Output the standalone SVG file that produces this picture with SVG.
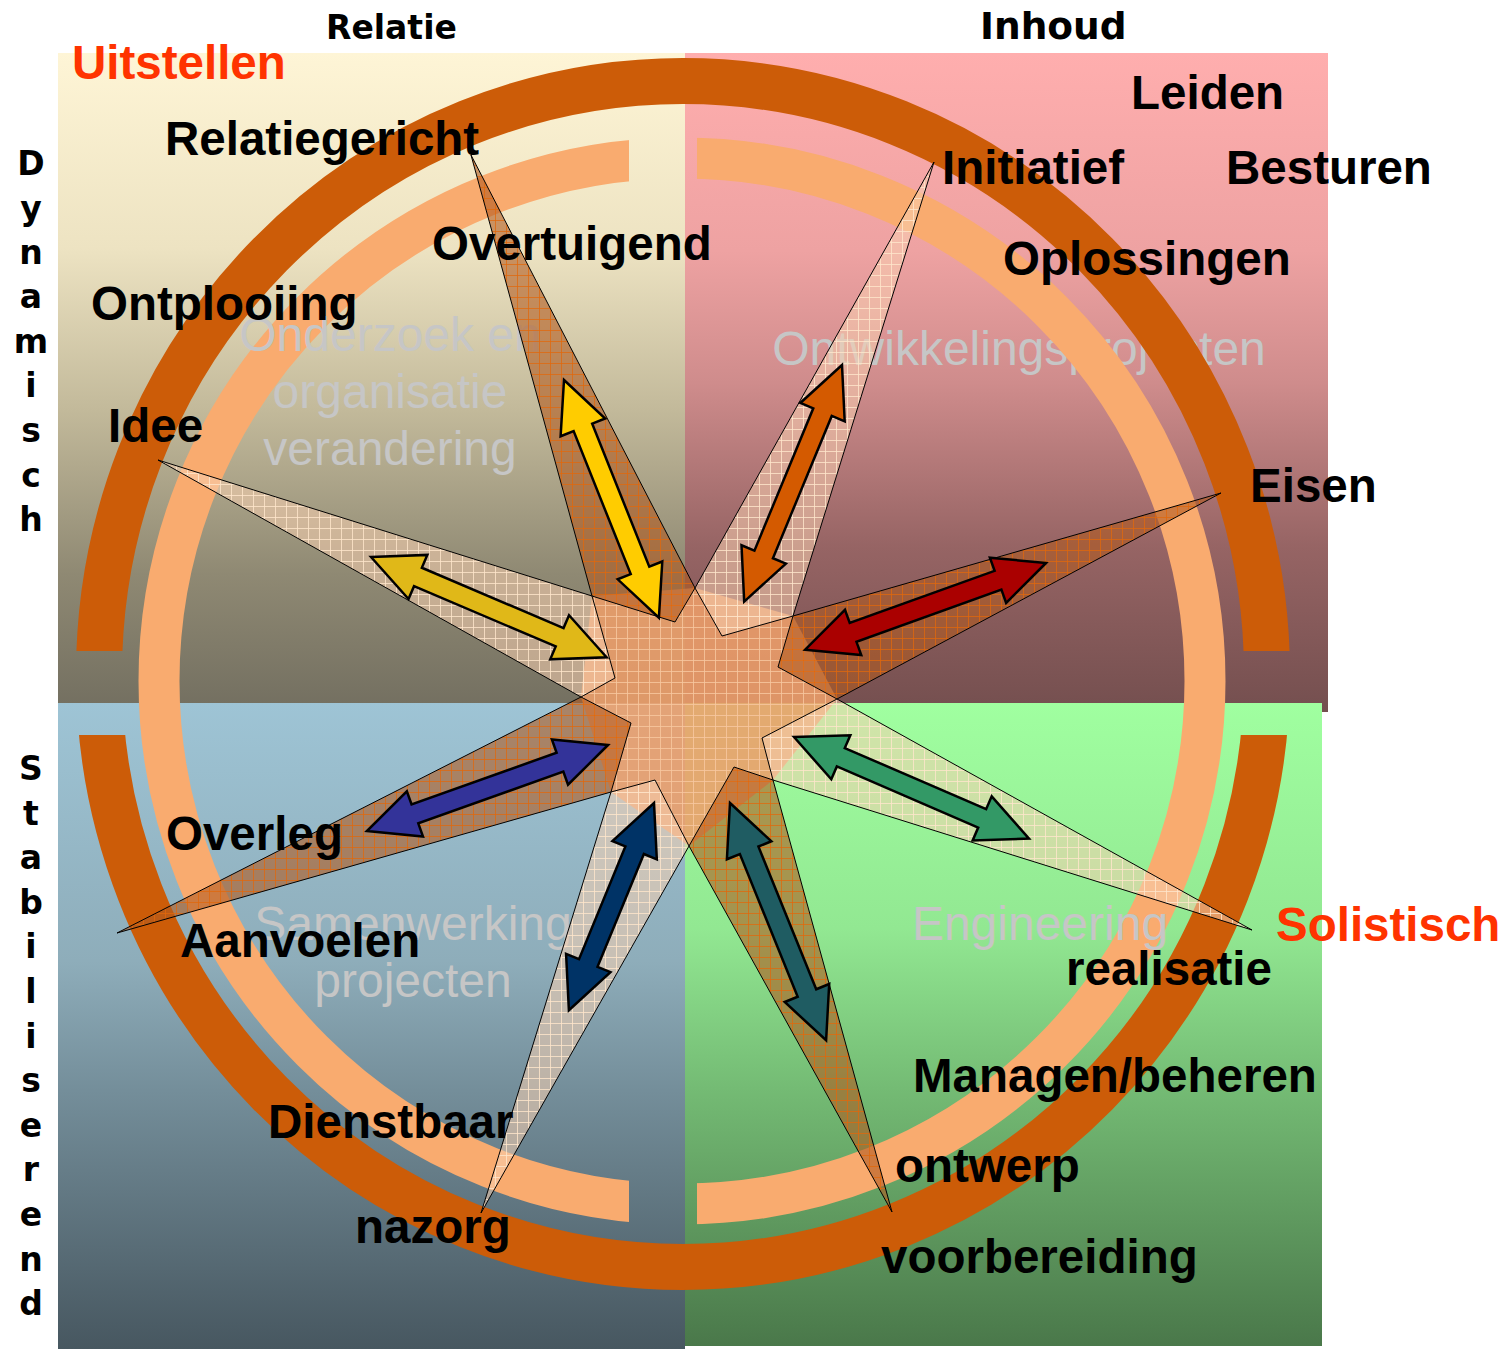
<svg xmlns="http://www.w3.org/2000/svg" width="1512" height="1349" viewBox="0 0 1512 1349">
<defs>
<style>
.lbl{font-family:"Liberation Sans",Arial,sans-serif;font-weight:bold;font-size:47.5px;fill:#000}
.red{font-family:"Liberation Sans",Arial,sans-serif;font-weight:bold;font-size:47.5px;fill:#ff3300}
.hdr{font-family:"DejaVu Sans",Verdana,sans-serif;font-weight:bold;font-size:33px;fill:#000}
.vt{font-family:"DejaVu Sans",Verdana,sans-serif;font-weight:bold;font-size:33px;fill:#000;text-anchor:middle}
.wm{font-family:"Liberation Sans",Arial,sans-serif;font-size:48px;fill:#c6c6c6;text-anchor:middle}
.dark{fill:url(#pDark);stroke:#000;stroke-width:1}
.light{fill:url(#pLight);stroke:#000;stroke-width:1}
.arr{stroke:#000;stroke-width:2.5;stroke-linejoin:miter}
</style>
<linearGradient id="gTL" x1="0" y1="0" x2="0" y2="1">
<stop offset="0" stop-color="#fef5d6"/>
<stop offset="0.3" stop-color="#ede3c2"/>
<stop offset="0.55" stop-color="#c2b99a"/>
<stop offset="0.8" stop-color="#8f8973"/>
<stop offset="1" stop-color="#747061"/>
</linearGradient>
<linearGradient id="gTR" x1="0" y1="0" x2="0" y2="1">
<stop offset="0" stop-color="#ffaeae"/>
<stop offset="0.3" stop-color="#eea2a2"/>
<stop offset="0.5" stop-color="#cf8c8c"/>
<stop offset="0.75" stop-color="#966464"/>
<stop offset="1" stop-color="#744f4f"/>
</linearGradient>
<linearGradient id="gBL" x1="0" y1="0" x2="0" y2="1">
<stop offset="0" stop-color="#9ec4d5"/>
<stop offset="0.4" stop-color="#8eadba"/>
<stop offset="0.6" stop-color="#748e9a"/>
<stop offset="1" stop-color="#475760"/>
</linearGradient>
<linearGradient id="gBR" x1="0" y1="0" x2="0" y2="1">
<stop offset="0" stop-color="#a0ffa0"/>
<stop offset="0.35" stop-color="#92e892"/>
<stop offset="0.6" stop-color="#74bb74"/>
<stop offset="1" stop-color="#4a784a"/>
</linearGradient>
<pattern id="pDark" width="11" height="11" patternUnits="userSpaceOnUse">
<rect width="11" height="11" fill="#b05a20" fill-opacity="0.6"/>
<path d="M0,0.5H11M0.5,0V11" stroke="#e0660a" stroke-opacity="0.75" stroke-width="1"/>
</pattern>
<pattern id="pLight" width="11" height="11" patternUnits="userSpaceOnUse">
<rect width="11" height="11" fill="#f8d0b0" fill-opacity="0.55"/>
<path d="M0,0.5H11M0.5,0V11" stroke="#ffe6cc" stroke-opacity="0.8" stroke-width="1"/>
</pattern>
<pattern id="pCenter" width="11" height="11" patternUnits="userSpaceOnUse">
<rect width="11" height="11" fill="#ec9e6a" fill-opacity="0.88"/>
<path d="M0,0.5H11M0.5,0V11" stroke="#f8c8a0" stroke-opacity="0.8" stroke-width="1"/>
</pattern>
<clipPath id="clipOuter"><rect x="0" y="0" width="1512" height="651"/><rect x="0" y="735" width="1512" height="614"/></clipPath>
<clipPath id="clipInner"><rect x="0" y="0" width="629" height="1349"/><rect x="697" y="0" width="815" height="1349"/></clipPath>
<path id="a256" d="M0,0 L51,-24 L51,-10 L205,-10 L205,-24 L256,0 L205,24 L205,10 L51,10 L51,24 Z"/>
<path id="a224" d="M0,0 L51,-24 L51,-10 L173,-10 L173,-24 L224,0 L173,24 L173,10 L51,10 L51,24 Z"/>
</defs>

<g id="background">
<rect x="685" y="53" width="643" height="659" fill="url(#gTR)"/>
<rect x="58" y="53" width="627" height="651" fill="url(#gTL)"/>
<rect x="58" y="703" width="627" height="646" fill="url(#gBL)"/>
<rect x="685" y="703" width="637" height="643" fill="url(#gBR)"/>
</g>

<g id="watermark-back">
<text class="wm" x="1019" y="365">Ontwikkelingsprojecten</text>
</g>

<g id="rings">
<ellipse cx="683" cy="674" rx="584" ry="593" fill="none" stroke="#cc5c08" stroke-width="46" clip-path="url(#clipOuter)"/>
<circle cx="682" cy="681" r="523" fill="none" stroke="#f9ab6f" stroke-width="41" clip-path="url(#clipInner)"/>
</g>

<g id="watermarks">
<text class="wm" x="390" y="351">Onderzoek en</text>
<text class="wm" x="390" y="408">organisatie</text>
<text class="wm" x="390" y="465">verandering</text>
<text class="wm" x="413" y="940">Samenwerking</text>
<text class="wm" x="413" y="997">projecten</text>
<text class="wm" x="1040" y="940">Engineering</text>
</g>

<g id="star">
<polygon id="star-center" points="695,588 793,616 837,699 773,780 689,846 611,792 581,697 592,596" fill="url(#pCenter)" stroke="none"/>
<polygon id="ray-relatiegericht" class="dark" points="471,155 695,588 675,622 592,596"/>
<polygon id="ray-initiatief" class="light" points="934,162 793,616 722,636 695,588"/>
<polygon id="ray-eisen" class="dark" points="1221,493 837,699 778,667 793,616"/>
<polygon id="ray-realisatie" class="light" points="1252,930 773,780 762,738 837,699"/>
<polygon id="ray-voorbereiding" class="dark" points="892,1212 689,846 734,767 773,780"/>
<polygon id="ray-nazorg" class="light" points="481,1213 611,792 655,780 689,846"/>
<polygon id="ray-aanvoelen" class="dark" points="117,933 581,697 631,723 611,792"/>
<polygon id="ray-idee" class="light" points="158,460 592,596 615,678 581,697"/>
</g>

<g id="connectors">
<use href="#a256" class="arr" fill="#ffcc00" transform="translate(564,380) rotate(68.24)"/>
<use href="#a256" class="arr" fill="#d45a00" transform="translate(842,365) rotate(112.46)"/>
<use href="#a256" class="arr" fill="#aa0000" transform="translate(1046,563) rotate(160.21)"/>
<use href="#a256" class="arr" fill="#339966" transform="translate(794,737) rotate(23.38)"/>
<use href="#a256" class="arr" fill="#1f5c62" transform="translate(730,803) rotate(67.95)"/>
<use href="#a224" class="arr" fill="#003366" transform="translate(654,803) rotate(112.33)"/>
<use href="#a256" class="arr" fill="#333399" transform="translate(608,745) rotate(160.36)"/>
<use href="#a256" class="arr" fill="#e0b818" transform="translate(371,557) rotate(23.05)"/>
</g>

<g id="headers">
<text class="hdr" x="326" y="39">Relatie</text>
<text class="hdr" x="980" y="39" style="font-size:37.5px">Inhoud</text>
<text class="red" x="72" y="79">Uitstellen</text>
<text class="red" x="1276" y="941">Solistisch</text>
</g>

<g id="axis-dynamisch">
<text class="vt" x="31" y="175">D</text>
<text class="vt" x="31" y="220">y</text>
<text class="vt" x="31" y="264">n</text>
<text class="vt" x="31" y="308">a</text>
<text class="vt" x="31" y="353">m</text>
<text class="vt" x="31" y="397">i</text>
<text class="vt" x="31" y="442">s</text>
<text class="vt" x="31" y="487">c</text>
<text class="vt" x="31" y="531">h</text>
</g>
<g id="axis-stabiliserend">
<text class="vt" x="31" y="780">S</text>
<text class="vt" x="31" y="825">t</text>
<text class="vt" x="31" y="869">a</text>
<text class="vt" x="31" y="914">b</text>
<text class="vt" x="31" y="958">i</text>
<text class="vt" x="31" y="1003">l</text>
<text class="vt" x="31" y="1048">i</text>
<text class="vt" x="31" y="1092">s</text>
<text class="vt" x="31" y="1137">e</text>
<text class="vt" x="31" y="1181">r</text>
<text class="vt" x="31" y="1226">e</text>
<text class="vt" x="31" y="1271">n</text>
<text class="vt" x="31" y="1315">d</text>
</g>

<g id="labels">
<text class="lbl" x="165" y="155">Relatiegericht</text>
<text class="lbl" x="432" y="260">Overtuigend</text>
<text class="lbl" x="91" y="320">Ontplooiing</text>
<text class="lbl" x="108" y="442">Idee</text>
<text class="lbl" x="1131" y="109">Leiden</text>
<text class="lbl" x="942" y="184">Initiatief</text>
<text class="lbl" x="1226" y="184">Besturen</text>
<text class="lbl" x="1003" y="275">Oplossingen</text>
<text class="lbl" x="1250" y="502">Eisen</text>
<text class="lbl" x="166" y="850">Overleg</text>
<text class="lbl" x="180" y="957">Aanvoelen</text>
<text class="lbl" x="1066" y="985">realisatie</text>
<text class="lbl" x="268" y="1138">Dienstbaar</text>
<text class="lbl" x="355" y="1243">nazorg</text>
<text class="lbl" x="913" y="1092">Managen/beheren</text>
<text class="lbl" x="895" y="1182">ontwerp</text>
<text class="lbl" x="881" y="1273">voorbereiding</text>
</g>
</svg>
